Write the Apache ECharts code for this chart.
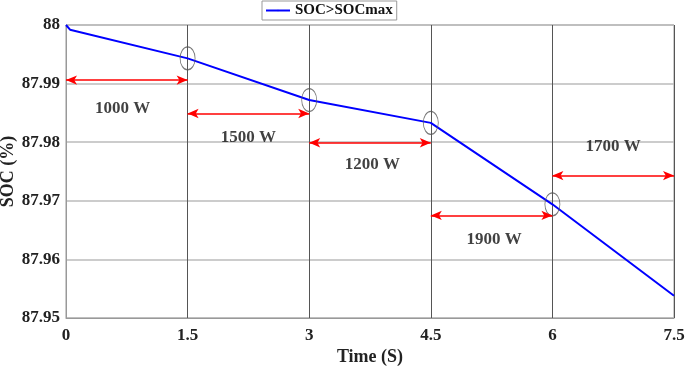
<!DOCTYPE html>
<html><head><meta charset="utf-8">
<script src="https://cdn.jsdelivr.net/npm/echarts@6/dist/echarts.min.js"></script>
<style>html,body{margin:0;padding:0;background:#fff}#c{width:685px;height:367px}</style>
</head><body><div id="c"></div>
<script>
// SOC curve (time s, SOC %)
const timeS = [0, 0.05, 1.5, 3, 4.5, 6, 7.5];
const socPct = [88.0, 87.9992, 87.9943, 87.9872, 87.9833, 87.9694, 87.9538];
// marked transition points (ellipses)
const markT = [1.5, 3, 4.5, 6];
const markSoc = [87.9943, 87.9872, 87.9833, 87.9694];
// power arrows: start, end, level
const arrowStart = [0, 1.5, 3, 4.5, 6];
const arrowEnd = [1.5, 3, 4.5, 6, 7.5];
const arrowSoc = [87.9906, 87.9849, 87.9799, 87.9675, 87.9743];
// power labels
const powerLabels = ['1000 W', '1500 W', '1200 W', '1900 W', '1700 W'];
const labelT = [0.7, 2.25, 3.78, 5.28, 6.75];
const labelSoc = [87.9858, 87.9808, 87.9761, 87.9633, 87.9792];
const xTicks = [0, 1.5, 3, 4.5, 6, 7.5];

const font = 'Liberation Serif';
const chart = echarts.init(document.getElementById('c'));
chart.setOption({
  animation: false,
  grid: {left: 66, right: 11, top: 25, bottom: 49, show: true, borderColor: '#999', borderWidth: 1,
    containLabel: false, outerBoundsMode: 'none'},
  legend: {
    data: ['SOC>SOCmax'], top: 1, left: 262, padding: [2, 4, 2, 3],
    borderColor: '#999', borderWidth: 1, backgroundColor: '#fff',
    itemWidth: 24, itemHeight: 2, itemGap: 2,
    textStyle: {fontFamily: font, fontWeight: 'bold', fontSize: 15, color: '#111'}
  },
  xAxis: {
    type: 'value', min: 0, max: 7.5, interval: 1.5,
    name: 'Time (S)', nameLocation: 'middle', nameGap: 30, nameMoveOverlap: false,
    nameTextStyle: {fontFamily: font, fontWeight: 'bold', fontSize: 18, color: '#222'},
    axisLine: {lineStyle: {color: '#999'}}, axisTick: {show: false},
    axisLabel: {fontFamily: font, fontWeight: 'bold', fontSize: 17, color: '#222', margin: 9,
      formatter: v => String(+v.toFixed(2))},
    splitLine: {show: true, lineStyle: {color: '#555', width: 1}}
  },
  yAxis: {
    type: 'value', min: 87.95, max: 88, interval: 0.01,
    name: 'SOC (%)', nameLocation: 'middle', nameGap: 49, nameMoveOverlap: false,
    nameTextStyle: {fontFamily: font, fontWeight: 'bold', fontSize: 18, color: '#222'},
    axisLine: {show: true, lineStyle: {color: '#999'}}, axisTick: {show: false},
    axisLabel: {fontFamily: font, fontWeight: 'bold', fontSize: 17, color: '#222', margin: 6,
      formatter: v => String(+v.toFixed(2))},
    splitLine: {show: true, lineStyle: {color: '#bbb', width: 1.5}}
  },
  series: [
    {
      name: 'SOC>SOCmax', type: 'line', symbol: 'none', smooth: false,
      lineStyle: {color: '#0000ff', width: 2}, itemStyle: {color: '#0000ff'},
      data: timeS.map((t, i) => [t, socPct[i]]), z: 3
    },
    {
      name: 'marks', type: 'scatter', symbol: 'circle', symbolSize: [15, 23],
      itemStyle: {color: 'rgba(0,0,0,0)', borderColor: '#555', borderWidth: 1},
      data: markT.map((t, i) => [t, markSoc[i]]), z: 4, silent: true
    },
    {
      name: 'arrows', type: 'line', data: [], silent: true,
      markLine: {
        silent: true, symbol: ['arrow', 'arrow'], symbolSize: [7, 11],
        label: {show: false},
        lineStyle: {color: '#ff0000', width: 1.6, type: 'solid'},
        data: arrowStart.map((s, i) => [{coord: [s, arrowSoc[i]]}, {coord: [arrowEnd[i], arrowSoc[i]]}])
      }
    },
    {
      name: 'labels', type: 'scatter', symbolSize: 0, silent: true,
      label: {show: true, position: 'inside', formatter: p => p.name,
        fontFamily: font, fontWeight: 'bold', fontSize: 17, color: '#111'},
      data: powerLabels.map((n, i) => ({name: n, value: [labelT[i], labelSoc[i]]}))
    }
  ]
});
</script></body></html>
